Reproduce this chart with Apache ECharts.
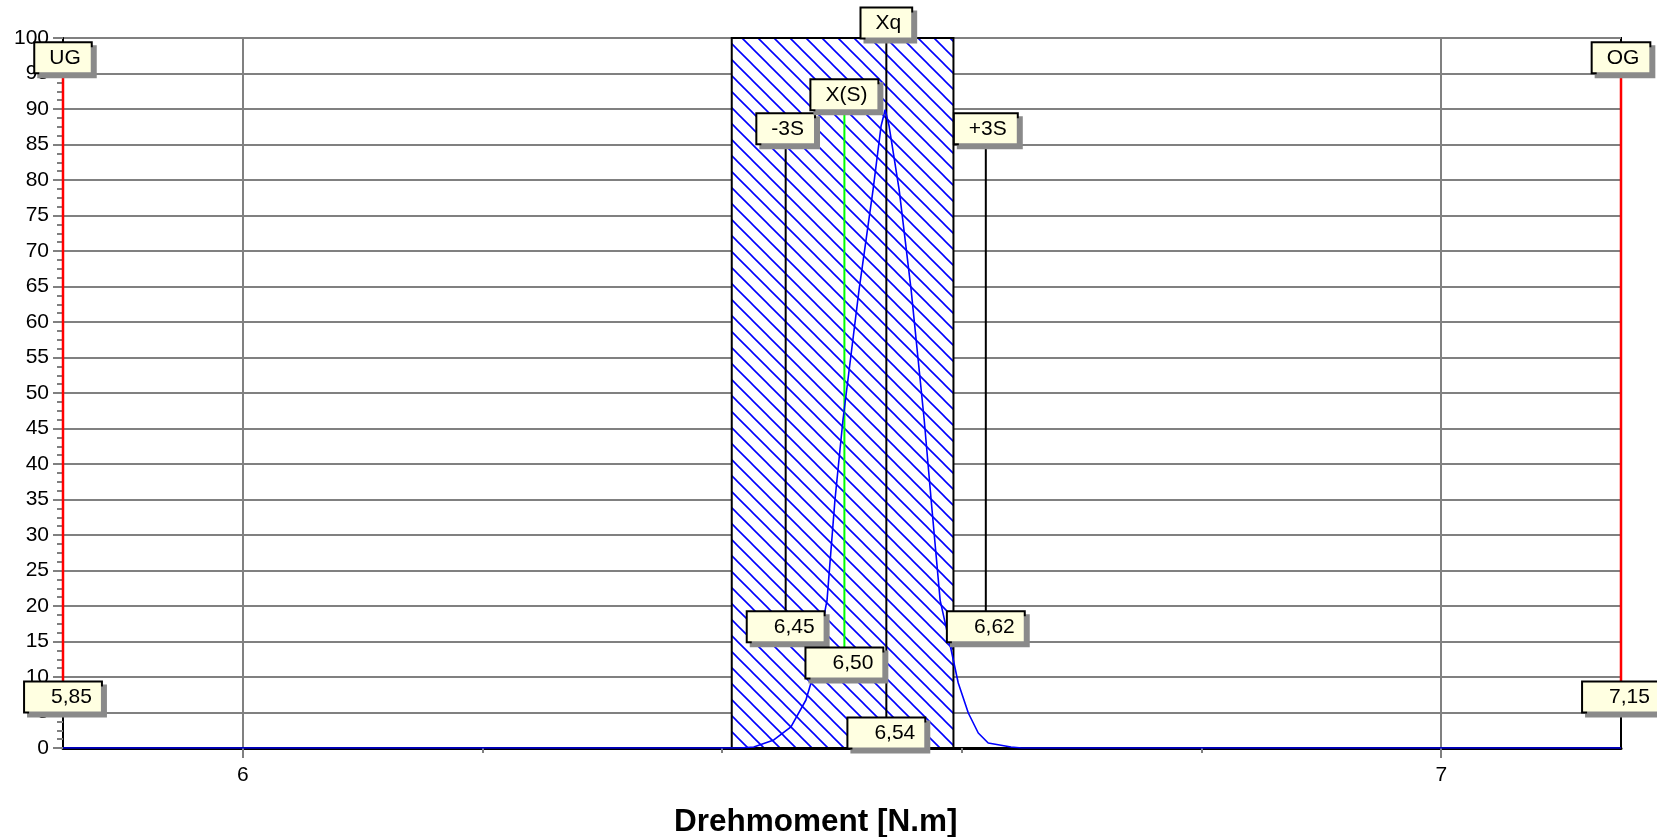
<!DOCTYPE html>
<html>
<head>
<meta charset="utf-8">
<title>Drehmoment</title>
<script src="https://cdn.jsdelivr.net/npm/echarts@6/dist/echarts.min.js"></script>
<style>
  html, body { margin: 0; padding: 0; background: #fff; }
  #box { width: 1657px; height: 837px; }
</style>
</head>
<body>
<div id="box"></div>
<script>
// Achsen
var xMin = 5.85, xMax = 7.15;
var xMajorTicks = [6, 7];
var xMinorTicks = [6.2, 6.4, 6.6, 6.8];

// Verteilungskurve
var curveX = [5.85, 6.415, 6.4264, 6.4431, 6.4574, 6.4699, 6.4741, 6.4875, 6.4941, 6.5008, 6.5142, 6.5259, 6.5326, 6.536,
              6.5393, 6.5477, 6.5577, 6.5686, 6.5744, 6.5819, 6.5911, 6.597, 6.6054, 6.6137, 6.622, 6.641, 6.65, 7.15];
var curveY = [0, 0, 0.14, 1.13, 2.96, 6.76, 9.15, 20.8, 34.9, 46.2, 64.5, 78.6, 87.6, 89.9,
              87.6, 78.6, 64.5, 46.2, 34.9, 20.8, 13.8, 9.15, 4.93, 2.11, 0.7, 0.14, 0, 0];

// schraffierter Bereich
var zoneFrom = 6.408, zoneTo = 6.593;

// Markierungslinien
var markerNames  = ['UG', '-3S', 'X(S)', 'Xq', '+3S', 'OG'];
var markerX      = [5.85, 6.453, 6.502, 6.537, 6.620, 7.15];
var markerLow    = [9.3, 19.2, 14.1, 0, 19.2, 9.3];
var markerHigh   = [95.1, 85.1, 89.9, 100, 85.1, 95.1];
var markerColors = ['#ff0000', '#000000', '#00ff00', '#000000', '#000000', '#ff0000'];
var markerLowPos = ['bottom', 'bottom', 'bottom', 'top', 'bottom', 'bottom'];

var FONT = '"Liberation Sans", Arial, sans-serif';

function hatch() {
    var s = 16;
    var c = document.createElement('canvas');
    c.width = s; c.height = s;
    var ctx = c.getContext('2d');
    ctx.fillStyle = '#fff';
    ctx.fillRect(0, 0, s, s);
    ctx.strokeStyle = '#0000ff';
    ctx.lineWidth = 1.6;
    ctx.beginPath();
    ctx.moveTo(-1, -1); ctx.lineTo(s + 1, s + 1);
    ctx.moveTo(-1, s - 1); ctx.lineTo(1, s + 1);
    ctx.moveTo(s - 1, -1); ctx.lineTo(s + 1, 1);
    ctx.stroke();
    return c;
}

var curveData = curveX.map(function (x, i) { return [x, curveY[i]]; });

var series = [];

// Bereich
series.push({
    type: 'line',
    data: [],
    markArea: {
        silent: true,
        itemStyle: {
            color: { image: hatch(), repeat: 'repeat' },
            borderColor: '#000',
            borderWidth: 2
        },
        data: [[{ xAxis: zoneFrom, yAxis: 0 }, { xAxis: zoneTo, yAxis: 100 }]]
    }
});

// senkrechte Linien
markerNames.forEach(function (n, i) {
    series.push({
        type: 'line',
        z: 2,
        showSymbol: false,
        silent: true,
        lineStyle: { color: markerColors[i], width: i == 0 || i == 5 ? 2.5 : 2 },
        data: [[markerX[i], markerLow[i]], [markerX[i], markerHigh[i]]]
    });
});

// Kurve
series.push({
    type: 'line',
    z: 3,
    showSymbol: false,
    silent: true,
    lineStyle: { color: '#0000ff', width: 1.6 },
    data: curveData
});

// Beschriftungen
var labelData = [];
markerNames.forEach(function (n, i) {
    labelData.push({
        value: [markerX[i], markerHigh[i]],
        label: { position: 'top', formatter: n, padding: [4, 10, 3, 14] }
    });
    labelData.push({
        value: [markerX[i], markerLow[i]],
        label: {
            position: markerLowPos[i],
            formatter: markerX[i].toFixed(2).replace('.', ','),
            padding: [4, 9, 3, 26]
        }
    });
});

series.push({
    type: 'scatter',
    z: 4,
    silent: true,
    symbolSize: 1,
    itemStyle: { color: 'transparent', opacity: 1 },
    label: {
        show: true,
        opacity: 1,
        distance: 0,
        color: '#000',
        fontSize: 21,
        lineHeight: 22,
        fontFamily: FONT,
        backgroundColor: '#ffffe1',
        borderColor: '#000',
        borderWidth: 2,
        shadowColor: '#8a8a8a',
        shadowOffsetX: 4,
        shadowOffsetY: 4,
        shadowBlur: 0
    },
    data: labelData
});

var myChart = echarts.init(document.getElementById('box'));
var option = {
    animation: false,
    backgroundColor: '#fff',
    title: {
        text: 'Drehmoment [N.m]',
        left: 669,
        top: 801,
        textStyle: { fontSize: 31.5, fontWeight: 'bold', fontFamily: FONT, color: '#000' }
    },
    grid: {
        left: 63, right: 36, top: 38, bottom: 89,
        show: true,
        borderColor: '#000',
        borderWidth: 2
    },
    xAxis: [{
        type: 'value',
        min: xMin,
        max: xMax,
        axisLine: { show: true, onZero: false, lineStyle: { color: '#000', width: 3 } },
        axisTick: { show: true, customValues: xMajorTicks, length: 10, lineStyle: { color: '#808080', width: 2 } },
        axisLabel: { customValues: xMajorTicks, color: '#000', fontSize: 21, fontFamily: FONT, margin: 17 },
        splitLine: { show: true, lineStyle: { color: '#808080', width: 2 } }
    }, {
        type: 'value',
        min: xMin,
        max: xMax,
        position: 'bottom',
        axisLine: { show: false },
        axisTick: { show: true, customValues: xMinorTicks, length: 5, lineStyle: { color: '#808080', width: 2 } },
        axisLabel: { show: false },
        splitLine: { show: false }
    }],
    yAxis: {
        type: 'value',
        min: 0,
        max: 100,
        interval: 5,
        axisLine: { show: true, lineStyle: { color: '#000', width: 2 } },
        axisTick: { show: true, length: 10, lineStyle: { color: '#808080', width: 2 } },
        minorTick: { show: true, splitNumber: 4, length: 6, lineStyle: { color: '#808080', width: 2 } },
        axisLabel: { color: '#000', fontSize: 21, fontFamily: FONT, margin: 14 },
        splitLine: { show: true, lineStyle: { color: '#808080', width: 2 } }
    },
    series: series
};
myChart.setOption(option);
</script>
</body>
</html>
